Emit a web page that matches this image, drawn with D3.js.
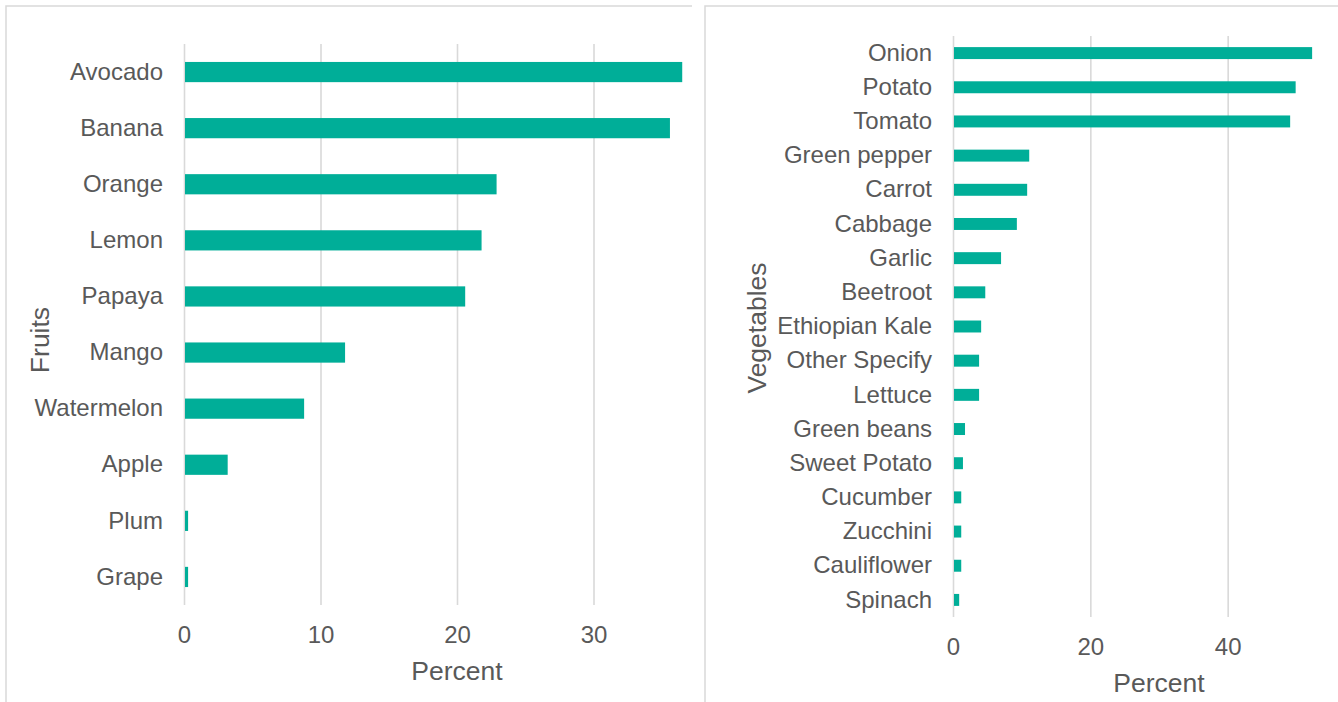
<!DOCTYPE html>
<html>
<head>
<meta charset="utf-8">
<script src="https://cdn.jsdelivr.net/npm/d3@7"></script>
<style>
  body { margin: 0; background: #fff; }
  svg { display: block; font-family: "Liberation Sans", Arial, sans-serif; }
  .tick text { fill: #595959; }
</style>
</head>
<body>
<svg id="chart" width="1338" height="702"></svg>
<script>
//// data

const fruits = ['Avocado', 'Banana', 'Orange', 'Lemon', 'Papaya', 'Mango', 'Watermelon', 'Apple', 'Plum', 'Grape'];
const fruitPct = [36.5, 35.6, 22.9, 21.8, 20.6, 11.8, 8.8, 3.2, 0.3, 0.3];
const fruitTicks = [0, 10, 20, 30];

const veggies = ['Onion', 'Potato', 'Tomato', 'Green pepper', 'Carrot', 'Cabbage', 'Garlic', 'Beetroot',
    'Ethiopian Kale', 'Other Specify', 'Lettuce', 'Green beans', 'Sweet Potato', 'Cucumber', 'Zucchini',
    'Cauliflower', 'Spinach'];
const vegPct = [52.3, 49.9, 49.1, 11.1, 10.8, 9.3, 7.0, 4.7, 4.1, 3.8, 3.8, 1.75, 1.45, 1.2, 1.2, 1.2, 0.9];
const vegTicks = [0, 20, 40];

const barColor = '#00ae98';
const gridColor = '#d9d9d9';
const textColor = '#595959';

const svg = d3.select('#chart');

// one panel = bordered box, clipped, with a horizontal bar chart inside
function drawPanel(opts){
    const clipId = 'clip-' + opts.id;
    svg.append('clipPath').attr('id', clipId)
        .append('rect')
        .attr('x', opts.box[0]).attr('y', opts.box[1])
        .attr('width', opts.box[2] - opts.box[0]).attr('height', 702 - opts.box[1]);

    const g = svg.append('g').attr('clip-path', `url(#${clipId})`);

    // axis max runs past the panel edge (cut off like in the original)
    const x = d3.scaleLinear().domain(opts.xDomain).range(opts.xRange);
    const y = d3.scaleBand().domain(opts.cats).range(opts.yRange)
        .paddingInner(opts.pad).paddingOuter(opts.pad / 2);

    // x axis + gridlines
    const xAxis = g.append('g')
        .attr('transform', `translate(0,${opts.yRange[1]})`)
        .call(d3.axisBottom(x).tickValues(opts.ticks).tickFormat(d3.format('d'))
            .tickSizeInner(-(opts.yRange[1] - opts.yRange[0])).tickSizeOuter(0).tickPadding(opts.tickPad));
    xAxis.select('.domain').remove();
    xAxis.selectAll('.tick line').attr('stroke', gridColor).attr('stroke-width', 1.6);
    xAxis.selectAll('.tick text').style('font-size', '24px').attr('fill', textColor);

    // bars
    g.selectAll('.bar')
        .data(opts.cats.map((c, i) => ({cat: c, val: opts.vals[i]})))
        .enter().append('rect')
        .attr('class', 'bar')
        .attr('x', x(0) + 1)
        .attr('y', d => y(d.cat))
        .attr('width', d => x(d.val) - x(0) - 1)
        .attr('height', y.bandwidth())
        .attr('fill', barColor);

    // category labels
    const yAxis = g.append('g')
        .attr('transform', `translate(${x(0)},0)`)
        .call(d3.axisLeft(y).tickSize(0).tickPadding(21));
    yAxis.select('.domain').remove();
    yAxis.selectAll('.tick text').style('font-size', '24px').attr('fill', textColor);

    // axis titles
    g.append('text')
        .attr('x', (opts.xRange[0] + opts.xRange[1]) / 2)
        .attr('y', opts.xTitleY)
        .attr('dy', '0.35em')
        .attr('text-anchor', 'middle')
        .attr('fill', textColor)
        .style('font-size', '26.5px')
        .text('Percent');

    g.append('text')
        .attr('transform', `translate(${opts.yTitle[0]},${opts.yTitle[1]}) rotate(-90)`)
        .attr('dy', '0.35em')
        .attr('text-anchor', 'middle')
        .attr('fill', textColor)
        .style('font-size', '26.5px')
        .text(opts.yLabel);

    // box border (left + top only, rest is cut off)
    svg.append('path')
        .attr('d', `M${opts.box[0]},702V${opts.box[1]}H${opts.box[2]}`)
        .attr('fill', 'none')
        .attr('stroke', gridColor)
        .attr('stroke-width', 1.5);
}

drawPanel({
    id: 'fruits', box: [6, 6, 692],
    cats: fruits, vals: fruitPct, ticks: fruitTicks,
    xDomain: [0, 40], xRange: [184, 730],
    yRange: [44, 605], pad: 0.64, tickPad: 21,
    xTitleY: 671, yTitle: [40, 340], yLabel: 'Fruits'
});

drawPanel({
    id: 'veg', box: [705, 6, 1338],
    cats: veggies, vals: vegPct, ticks: vegTicks,
    xDomain: [0, 60], xRange: [953, 1365],
    yRange: [36, 617], pad: 0.65, tickPad: 21,
    xTitleY: 683, yTitle: [757, 328], yLabel: 'Vegetables'
});
</script>
</body>
</html>
